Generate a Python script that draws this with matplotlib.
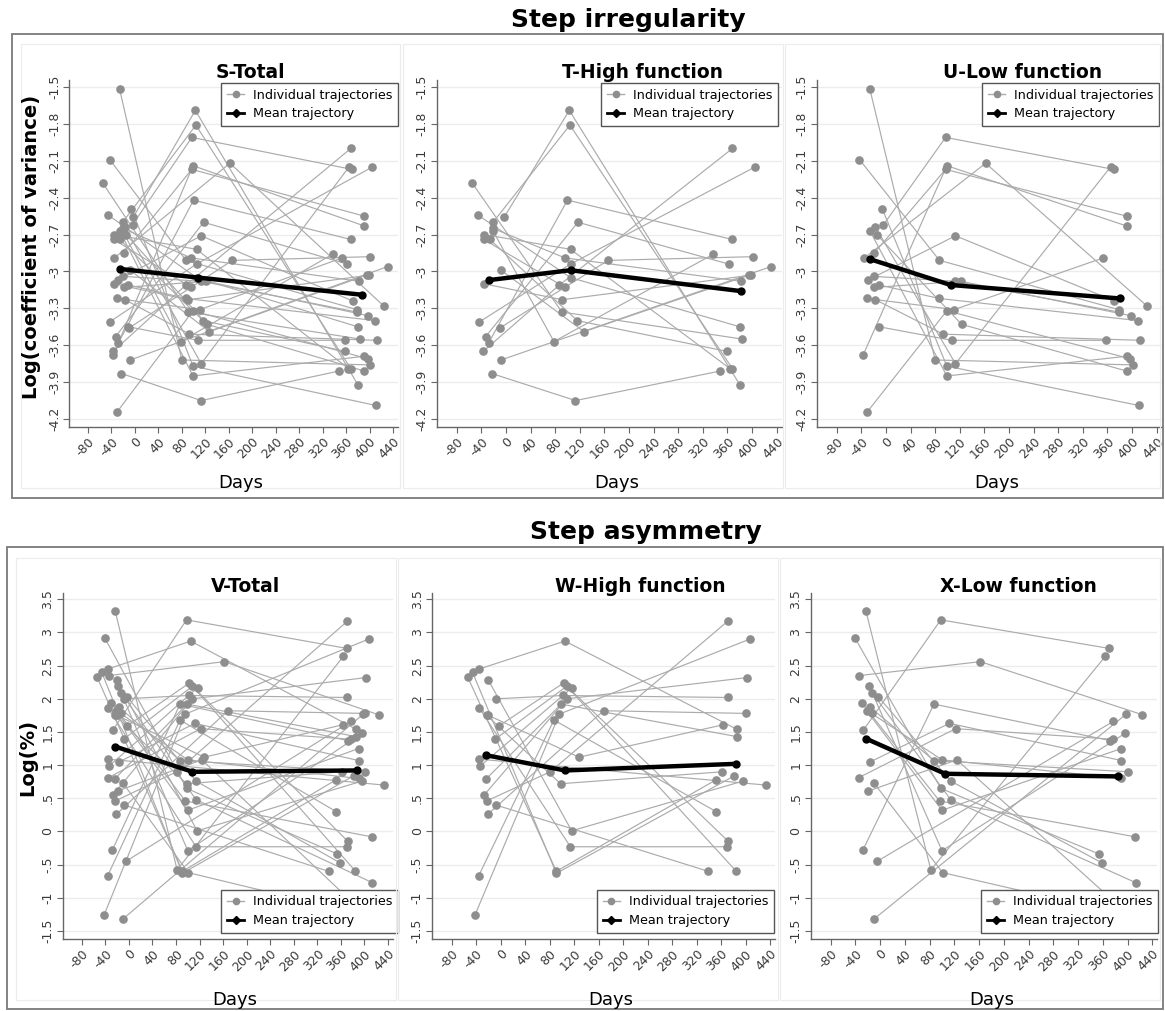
import numpy as np
import matplotlib
matplotlib.use("Agg")
import matplotlib.pyplot as plt
from matplotlib.patches import Rectangle
from matplotlib.lines import Line2D

nan = np.nan

# ---------------- Data ----------------
# Step irregularity, high function: visit days / log(CV) per individual
hi_irr_d1 = [-3, -21, -55, -46, -36, -36, -26, -21, -21, -36, -43, -33, -28, -37, -8, -10, -8, -23]
hi_irr_v1 = [-2.56, -2.60, -2.28, -2.54, -2.70, -2.74, -2.74, -2.65, -2.67, -3.10, -3.41, -3.53, -3.58, -3.65, -2.99, -3.46, -3.72, -3.83]
hi_irr_d2 = [103, 104, 91, 105, 105, 96, 116, 96, 78, 91, 105, 117, 100, 87, 127, 166, nan, 113]
hi_irr_v2 = [-1.69, -1.81, -3.33, -3.05, -2.82, -3.13, -3.40, -2.89, -3.57, -3.23, -2.94, -2.60, -2.42, -3.11, -3.49, -2.91, nan, -4.05]
hi_irr_d3 = [380, 368, 384, 380, 364, nan, 359, 382, 337, 399, 405, 362, 368, 368, 395, 401, 431, 348]
hi_irr_v3 = [-3.92, -3.79, -3.55, -3.45, -3.79, nan, -3.65, -3.08, -2.86, -3.03, -2.15, -2.94, -2.74, -2.00, -3.03, -2.88, -2.96, -3.81]

# Step irregularity, low function
lo_irr_d1 = [-26, -43, -6, -26, -17, -15, -4, -19, -35, -29, -20, -19, -11, -31, -17, -11, -37, -30]
lo_irr_v1 = [-1.52, -2.09, -2.49, -2.67, -2.64, -2.70, -2.62, -2.85, -2.89, -3.07, -3.04, -3.13, -3.11, -3.22, -3.23, -3.45, -3.68, -4.14]
lo_irr_d2 = [80, 87, 99, 99, 113, 123, 97, 97, 162, 113, 113, 122, 87, 111, 93, 107, 99, 99]
lo_irr_v2 = [-3.72, -2.91, -3.77, -3.85, -3.75, -3.43, -1.91, -2.17, -2.12, -2.71, -3.08, -3.08, -3.22, -3.31, -3.51, -3.56, -2.14, -3.32]
lo_irr_d3 = [401, 378, 411, 391, 365, 391, 370, 391, 424, 371, 378, 398, 410, 353, 413, 358, 391, 397]
lo_irr_v3 = [-3.76, -3.31, -4.09, -3.69, -2.15, -3.81, -2.17, -2.55, -3.28, -3.24, -3.33, -3.36, -3.40, -2.89, -3.56, -3.56, -2.63, -3.71]

# Step asymmetry, high function: log(%)
hi_asy_d1 = [-54, -46, -35, -20, -35, -23, -20, -8, -3, -9, -35, -33, -24, -27, -23, -21, -8, -36, -42]
hi_asy_v1 = [2.33, 2.40, 2.45, 2.28, 1.86, 1.75, 1.75, 2.00, 1.59, 1.39, 1.09, 0.99, 0.79, 0.55, 0.46, 0.26, 0.40, -0.67, -1.26]
hi_asy_d2 = [91, 91, 105, 116, 114, 98, 128, 102, 103, 108, nan, 117, 99, 108, 81, 168, nan, 87, 96]
hi_asy_v2 = [-0.60, -0.63, 2.87, 0.01, -0.23, 0.72, 1.12, 2.05, 2.24, 2.19, nan, 2.17, 1.92, 2.00, 0.90, 1.82, nan, 1.68, 1.77]
hi_asy_d3 = [352, 382, 386, 396, 370, 362, 364, 371, 384, 372, 433, nan, 386, 403, 371, 401, 339, 352, 407]
hi_asy_v3 = [0.78, 0.84, 1.54, 0.76, -0.23, 0.90, 1.61, 2.02, -0.59, -0.15, 0.70, nan, 1.43, 2.32, 3.17, 1.78, -0.60, 0.30, 2.90]

# Step asymmetry, low function
lo_asy_d1 = [-41, -23, -34, -18, -13, -3, -30, -16, -21, -14, -27, -16, -35, -10, -19, -28, -5, -10]
lo_asy_v1 = [2.92, 3.32, 2.35, 2.20, 2.09, 2.03, 1.94, 1.87, 1.81, 1.78, 1.53, 1.05, 0.81, 0.73, 0.61, -0.28, -0.45, -1.32]
lo_asy_d2 = [98, 82, 162, 100, 114, 114, 96, 87, 100, 100, 98, 112, 122, 101, 124, 87, nan, nan]
lo_asy_v2 = [0.65, -0.58, 2.56, -0.29, 0.48, 0.76, 0.46, 1.07, 0.32, 1.08, 3.19, 1.63, 1.55, -0.62, 1.08, 1.92, nan, nan]
lo_asy_d3 = [354, 364, 424, 396, 413, 358, 412, 401, 390, 390, 370, 390, 377, 390, 412, 372, 377, 398]
lo_asy_v3 = [-0.34, 2.64, 1.76, 1.48, -0.77, -0.47, -0.08, 0.90, 1.25, 0.80, 2.76, 1.07, 1.39, -1.24, -1.34, 1.37, 1.66, 1.77]

# Mean trajectories
mean_S_days = [-25, 108, 388]; mean_S_vals = [-2.98, -3.05, -3.19]
mean_T_days = [-27, 105, 382]; mean_T_vals = [-3.07, -2.99, -3.16]
mean_U_days = [-26, 105, 381]; mean_U_vals = [-2.90, -3.11, -3.22]
mean_V_days = [-23, 108, 387]; mean_V_vals = [1.28, 0.90, 0.92]
mean_W_days = [-24, 105, 385]; mean_W_vals = [1.15, 0.92, 1.02]
mean_X_days = [-23, 105, 385]; mean_X_vals = [1.40, 0.87, 0.83]

x_ticks = list(range(-80, 441, 40))
irr_ticks = [-1.5, -1.8, -2.1, -2.4, -2.7, -3.0, -3.3, -3.6, -3.9, -4.2]
irr_labels = ["-1.5", "-1.8", "-2.1", "-2.4", "-2.7", "-3", "-3.3", "-3.6", "-3.9", "-4.2"]
asy_ticks = [3.5, 3.0, 2.5, 2.0, 1.5, 1.0, 0.5, 0.0, -0.5, -1.0, -1.5]
asy_labels = ["3.5", "3", "2.5", "2", "1.5", "1", ".5", "0", "-.5", "-1", "-1.5"]

# ---------------- Figure ----------------
W, H = 1165, 1011
plt.rcParams["font.family"] = ["DejaVu Sans"]
fig = plt.figure(figsize=(W / 100, H / 100), dpi=100)

XL = (-112, 448)
YL_IRR = (-4.265, -1.443)
YL_ASY = (-1.625, 3.595)


def rect_from_ticks(xa, xb, ya, yb, yv_top, yv_bot, ylim):
    ppd = (xb - xa) / 520.0
    left = xa + (XL[0] + 80) * ppd
    right = xa + (XL[1] + 80) * ppd
    ppu = (yb - ya) / (yv_top - yv_bot)
    top = ya - (ylim[1] - yv_top) * ppu
    bot = yb + (yv_bot - ylim[0]) * ppu
    return [left / W, 1 - bot / H, (right - left) / W, (bot - top) / H]


def fig_rect(x0, y0, x1, y1, color, lw):
    fig.patches.append(Rectangle((x0 / W, 1 - y1 / H), (x1 - x0) / W, (y1 - y0) / H,
                                 transform=fig.transFigure, fill=False,
                                 edgecolor=color, linewidth=lw, zorder=0))


# outer boxes and inner panel boxes
fig_rect(12, 34, 1163, 498, "#7a7a7a", 1.3)
fig_rect(7, 547, 1163, 1009, "#7a7a7a", 1.3)
for (a, b) in [(21, 400), (403, 783), (785, 1160)]:
    fig_rect(a, 44, b, 488, "#ececec", 0.8)
for (a, b) in [(16, 396), (398, 778), (780, 1160)]:
    fig_rect(a, 558, b, 1000, "#ececec", 0.8)

fig.text(628 / W, 1 - 20 / H, "Step irregularity", ha="center", va="center",
         fontsize=18, fontweight="bold")
fig.text(646 / W, 1 - 532 / H, "Step asymmetry", ha="center", va="center",
         fontsize=18, fontweight="bold")

IND_COLOR = "#ababab"
DOT_COLOR = "#8e8e8e"


def draw_individuals(ax, d1, v1, d2, v2, d3, v3):
    for i in range(len(d1)):
        xs = np.array([d1[i], d2[i], d3[i]], dtype=float)
        ys = np.array([v1[i], v2[i], v3[i]], dtype=float)
        m = ~np.isnan(xs)
        ax.plot(xs[m], ys[m], color=IND_COLOR, lw=0.85, zorder=2)
        ax.plot(xs[m], ys[m], ls="none", marker="o", ms=5.2,
                color=DOT_COLOR, mec=DOT_COLOR, zorder=3)


def panel(rect, title, title_xy, groups, mdays, mvals, yticks, ylabels, ylim,
          leg_loc, leg_anchor):
    ax = fig.add_axes(rect)
    for g in groups:
        draw_individuals(ax, *g)
    ax.plot(mdays, mvals, color="black", lw=3.2, marker="o", ms=5, zorder=5)
    ax.set_xlim(*XL)
    ax.set_ylim(*ylim)
    ax.set_xticks(x_ticks)
    ax.set_xticklabels([str(t) for t in x_ticks], rotation=45, ha="right",
                       va="top", rotation_mode="anchor", fontsize=9, color="#3a3a3a")
    ax.set_yticks(yticks)
    ax.set_yticklabels(ylabels, rotation=90, va="center", fontsize=9, color="#3a3a3a")
    ax.tick_params(axis="both", length=4, width=0.8, color="#666666", pad=2)
    for s in ["top", "right"]:
        ax.spines[s].set_visible(False)
    for s in ["left", "bottom"]:
        ax.spines[s].set_color("#666666")
        ax.spines[s].set_linewidth(1.0)
    for y in yticks:
        ax.axhline(y, color="#ececec", lw=1.0, zorder=0)
    fig.text(title_xy[0] / W, 1 - title_xy[1] / H, title, ha="center", va="center",
             fontsize=13.5, fontweight="bold")
    handles = [
        Line2D([], [], color=IND_COLOR, lw=1, marker="o", ms=4.5,
               mfc=DOT_COLOR, mec=DOT_COLOR),
        Line2D([], [], color="black", lw=2, marker="D", ms=4),
    ]
    leg = ax.legend(handles, ["Individual trajectories", "Mean trajectory"],
                    loc=leg_loc, bbox_to_anchor=leg_anchor,
                    bbox_transform=fig.transFigure, borderaxespad=0,
                    fontsize=9.2, frameon=True, fancybox=False, framealpha=1,
                    edgecolor="#555555", handlelength=1.3, handletextpad=0.7,
                    borderpad=0.45, labelspacing=0.45)
    leg.get_frame().set_linewidth(1.0)
    leg.set_zorder(10)
    return ax


hi_irr = (hi_irr_d1, hi_irr_v1, hi_irr_d2, hi_irr_v2, hi_irr_d3, hi_irr_v3)
lo_irr = (lo_irr_d1, lo_irr_v1, lo_irr_d2, lo_irr_v2, lo_irr_d3, lo_irr_v3)
hi_asy = (hi_asy_d1, hi_asy_v1, hi_asy_d2, hi_asy_v2, hi_asy_d3, hi_asy_v3)
lo_asy = (lo_asy_d1, lo_asy_v1, lo_asy_d2, lo_asy_v2, lo_asy_d3, lo_asy_v3)

top_specs = [
    ((88, 393), "S-Total", (250, 73), [hi_irr, lo_irr], mean_S_days, mean_S_vals, 398),
    ((456.7, 776.7), "T-High function", (643, 73), [hi_irr], mean_T_days, mean_T_vals, 778),
    ((836.7, 1156.7), "U-Low function", (1023, 73), [lo_irr], mean_U_days, mean_U_vals, 1159),
]
bot_specs = [
    ((81.7, 388), "V-Total", (246, 586), [hi_asy, lo_asy], mean_V_days, mean_V_vals, 398),
    ((451.7, 770), "W-High function", (640, 586), [hi_asy], mean_W_days, mean_W_vals, 774),
    ((830.7, 1152.3), "X-Low function", (1018, 586), [lo_asy], mean_X_days, mean_X_vals, 1158),
]

for (xa, xb), title, txy, groups, md, mv, lr in top_specs:
    rect = rect_from_ticks(xa, xb, 87, 419, -1.5, -4.2, YL_IRR)
    panel(rect, title, txy, groups, md, mv, irr_ticks, irr_labels, YL_IRR,
          "upper right", (lr / W, 1 - 83 / H))
    fig.text(((xa + xb) / 2) / W, 1 - 483 / H, "Days", ha="center", va="center", fontsize=13)

for (xa, xb), title, txy, groups, md, mv, lr in bot_specs:
    rect = rect_from_ticks(xa, xb, 599.3, 931, 3.5, -1.5, YL_ASY)
    panel(rect, title, txy, groups, md, mv, asy_ticks, asy_labels, YL_ASY,
          "lower right", (lr / W, 1 - 933 / H))
    fig.text(((xa + xb) / 2) / W, 1 - 1000 / H, "Days", ha="center", va="center", fontsize=13)

fig.text(32 / W, 1 - 247 / H, "Log(coefficient of variance)", rotation=90,
         ha="center", va="center", fontsize=14, fontweight="bold")
fig.text(28 / W, 1 - 757 / H, "Log(%)", rotation=90,
         ha="center", va="center", fontsize=14, fontweight="bold")

fig.savefig("out.png", dpi=100, facecolor="white")
